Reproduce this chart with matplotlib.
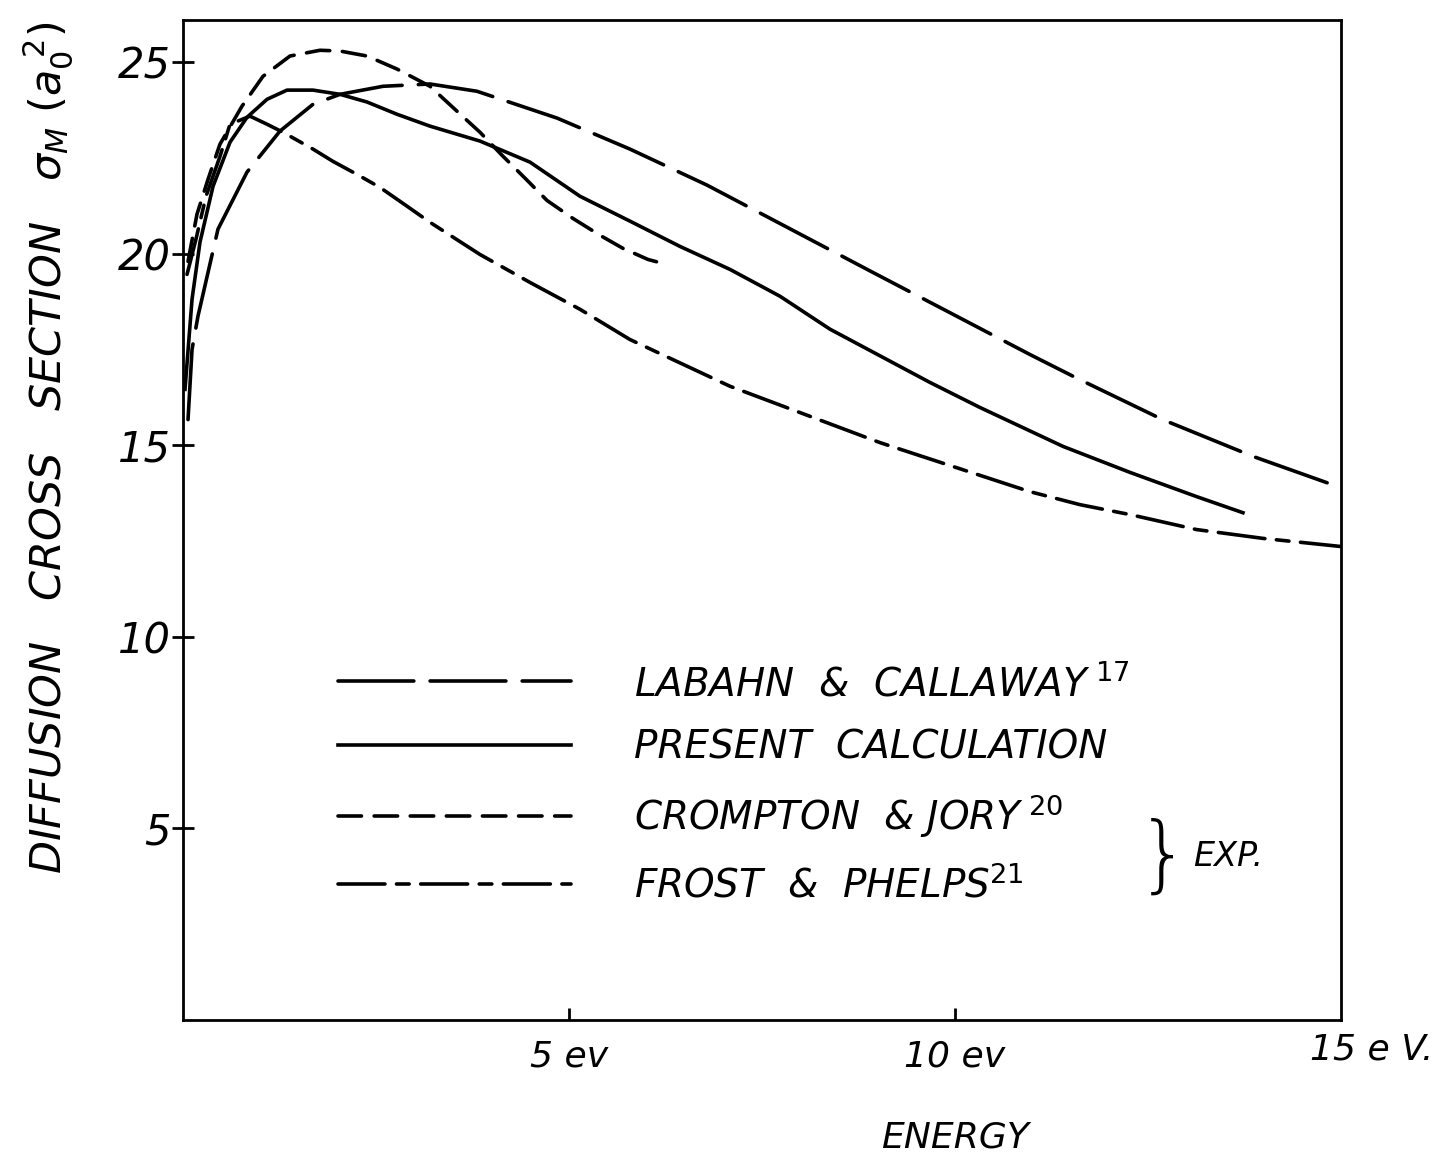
import numpy as np
import matplotlib
matplotlib.use("Agg")
from matplotlib import pyplot as plt

# values (energy in eV, cross section in a0^2)
labahn_e = [0.065, 0.117, 0.194, 0.324, 0.453, 0.829, 1.256, 1.684, 2.034, 2.591, 3.199,
            3.808, 4.845, 5.790, 6.788, 8.938, 10.97, 11.58, 12.69, 13.86, 14.99]
labahn_s = [15.67, 17.50, 18.37, 19.51, 20.64, 22.13, 23.20, 23.90, 24.16, 24.37, 24.43,
            24.24, 23.54, 22.73, 21.79, 19.51, 17.37, 16.75, 15.67, 14.71, 13.90]

present_e = [0.026, 0.117, 0.220, 0.389, 0.609, 0.829, 1.088, 1.347, 1.684, 2.034, 2.383,
             2.772, 3.199, 3.847, 4.495, 5.142, 5.790, 6.438, 7.086, 7.733, 8.381, 9.676,
             10.32, 11.40, 12.27, 13.13, 13.73]
present_s = [16.46, 18.81, 20.30, 21.76, 22.91, 23.56, 24.03, 24.27, 24.27, 24.16, 23.96,
             23.64, 23.33, 22.94, 22.39, 21.50, 20.85, 20.19, 19.59, 18.89, 18.03, 16.64,
             15.99, 14.97, 14.29, 13.66, 13.24]

crompton_e = [0.065, 0.181, 0.324, 0.479, 0.764, 1.036, 1.386, 1.775, 2.034, 2.383, 2.772,
              3.199, 3.549, 3.847, 4.132, 4.456, 4.715, 5.052, 5.402, 5.699, 6.023, 6.153]
crompton_s = [19.80, 21.03, 21.94, 22.86, 23.85, 24.63, 25.16, 25.31, 25.29, 25.16, 24.82,
              24.37, 23.72, 23.17, 22.57, 21.92, 21.39, 20.92, 20.48, 20.14, 19.85, 19.78]

frost_e = [0.052, 0.168, 0.298, 0.479, 0.609, 0.868, 1.088, 1.295, 1.684, 1.943, 2.254,
           2.552, 2.902, 3.199, 3.847, 4.495, 5.142, 5.790, 7.086, 9.028, 10.97, 11.62,
           12.27, 13.13, 13.99, 14.99]
frost_s = [19.46, 20.38, 21.50, 22.54, 23.38, 23.59, 23.38, 23.17, 22.73, 22.41, 22.07,
           21.73, 21.24, 20.82, 19.98, 19.25, 18.55, 17.76, 16.54, 15.07, 13.79, 13.45,
           13.19, 12.80, 12.57, 12.36]

yticks = [5, 10, 15, 20, 25]
xticks = [5, 10]
xticklabels = ["5 ev", "10 ev"]

labels = [r"LABAHN  &  CALLAWAY$^{\ 17}$",
          "PRESENT  CALCULATION",
          r"CROMPTON  & JORY$^{\ 20}$",
          r"FROST  &  PHELPS$^{21}$"]

plt.rcParams['font.family'] = ['DejaVu Sans']
plt.rcParams['mathtext.fontset'] = 'dejavusans'
plt.rcParams['mathtext.default'] = 'it'

fig = plt.figure(figsize=(14.56, 11.6), dpi=100)
ax = fig.add_axes([183/1456, 140/1160, 1158/1456, 1000/1160])

lw = 2.6
ax.plot(labahn_e, labahn_s, color='black', lw=lw, ls=(0, (21, 4.5)),
        dash_capstyle='round', label=labels[0])
ax.plot(present_e, present_s, color='black', lw=lw, ls='-', label=labels[1])
ax.plot(crompton_e, crompton_s, color='black', lw=lw, ls=(0, (6.5, 3.5)),
        dash_capstyle='round', label=labels[2])
ax.plot(frost_e, frost_s, color='black', lw=lw, ls=(0, (13, 3.2, 3.5, 3.2)),
        dash_capstyle='round', label=labels[3])

ax.set_xlim(0, 15)
ax.set_ylim(0, 26.1)
for s in ax.spines.values():
    s.set_linewidth(2.0)

ax.set_yticks(yticks)
ax.set_yticklabels([str(v) for v in yticks], fontsize=30, style='italic')
ax.tick_params(axis='y', direction='inout', length=16, width=2, pad=1)
ax.set_xticks(xticks)
ax.set_xticklabels(xticklabels, fontsize=26, style='italic')
ax.tick_params(axis='x', direction='in', length=9, width=2, pad=14)

fig.text(1372/1456, 1 - 1050/1160, "15 e V.", fontsize=26, style='italic',
         ha='center', va='center')
fig.text(955/1456, 1 - 1138/1160, "ENERGY", fontsize=26, style='italic',
         ha='center', va='center')
fig.text(48/1456, 1 - 448/1160, r"DIFFUSION   CROSS   SECTION   $\sigma_M\ (a_0^{\ 2})$",
         fontsize=31, style='italic', rotation=90, ha='center', va='center')

leg = ax.legend(loc='upper left', bbox_to_anchor=(338/1456, 1 - 664/1160),
                bbox_transform=fig.transFigure, frameon=False, fontsize=28,
                handlelength=6.0, handletextpad=1.6, labelspacing=0.66,
                borderpad=0, borderaxespad=0)
for t in leg.get_texts():
    t.set_style('italic')

fig.text(1163/1456, 1 - 858/1160, "}", fontsize=60, fontweight='light',
         ha='center', va='center')
fig.text(1228/1456, 1 - 856/1160, "EXP.", fontsize=24, style='italic',
         ha='center', va='center')

fig.savefig("out.png", dpi=100)
